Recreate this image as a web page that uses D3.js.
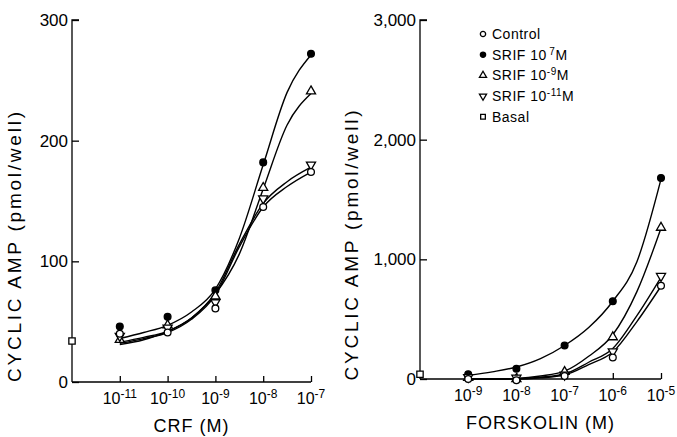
<!DOCTYPE html>
<html>
<head>
<meta charset="utf-8">
<script src="https://cdn.jsdelivr.net/npm/d3@7"></script>
<style>
  body { margin: 0; background: #fff; }
  svg { font-family: "Liberation Sans", Arial, Helvetica, sans-serif; }
</style>
</head>
<body>
<div class="container"></div>
<script>
// ---- data ----
// CRF panel: doses as powers of ten
let crfDoses = [-11, -10, -9, -8, -7];
let crfControl = [40, 41, 61, 145, 174];
let crfSrif7 = [46, 54, 76, 182, 272];
let crfSrif9 = [35, 47, 71, 161, 241];
let crfSrif11 = [38, 45, 66, 152, 180];
let crfBasal = 34;

// fitted curves, sampled every half decade
let crfCurveX = [-11, -10.5, -10, -9.5, -9, -8.5, -8, -7.5, -7];
let crfFitControl = [32, 36, 41, 52, 72, 112, 145, 162, 174];
let crfFitSrif7 = [36, 41, 47, 58, 77, 119, 180, 240, 271];
let crfFitSrif9 = [31, 35, 42, 53, 73, 106, 160, 213, 239];
let crfFitSrif11 = [33, 37, 42, 53, 74, 114, 148, 166, 178];

// Forskolin panel
let fskDoses = [-9, -8, -7, -6, -5];
let fskControl = [0, -10, 25, 180, 780];
let fskSrif7 = [40, 85, 280, 650, 1680];
let fskSrif9 = [10, 0, 60, 350, 1265];
let fskSrif11 = [15, 10, 35, 230, 860];
let fskBasal = 40;

let fskCurveX = [-9, -8.5, -8, -7.5, -7, -6.5, -6, -5.5, -5];
let fskFitControl = [0, 0, 0, 10, 33, 120, 225, 480, 775];
let fskFitSrif7 = [30, 60, 100, 170, 280, 430, 650, 980, 1670];
let fskFitSrif9 = [0, 0, 5, 25, 65, 190, 370, 730, 1260];
let fskFitSrif11 = [0, 0, 3, 15, 42, 140, 255, 530, 850];

let crfYTicks = [0, 100, 200, 300];
let fskYTicks = [0, 1000, 2000, 3000];

let legendLabels = [
  {key: 'control', text: 'Control', sup: '', after: ''},
  {key: 'srif7', text: 'SRIF 10', sup: '\u2009' + '7', after: 'M'},
  {key: 'srif9', text: 'SRIF 10', sup: '-9', after: 'M'},
  {key: 'srif11', text: 'SRIF 10', sup: '-11', after: 'M'},
  {key: 'basal', text: 'Basal', sup: '', after: ''}
];

// ---- drawing ----
let svg = d3.select('.container').append('svg')
  .attr('width', 677)
  .attr('height', 437);

function marker(g, key, x, y, size) {
  let type = d3.symbolCircle, fill = '#fff', rot = 0;
  if (key === 'srif7') fill = '#000';
  if (key === 'srif9') type = d3.symbolTriangle;
  if (key === 'srif11') { type = d3.symbolTriangle; rot = 180; }
  if (key === 'basal') type = d3.symbolSquare;
  g.append('path')
    .attr('d', d3.symbol().type(type).size(size)())
    .attr('transform', `translate(${x},${y}) rotate(${rot})`)
    .attr('fill', fill)
    .attr('stroke', '#000')
    .attr('stroke-width', 1.3);
}

function panel(opt) {
  let g = svg.append('g');
  let x = d3.scaleLog().domain(opt.xDomain).range([opt.left, opt.right]);
  let y = d3.scaleLinear().domain(opt.yDomain).range([opt.bottom, opt.top]);

  // y axis
  let yAxis = d3.axisRight(y).tickValues(opt.yTicks).tickSize(7).tickFormat('');
  g.append('g')
    .attr('transform', `translate(${opt.left},0)`)
    .call(yAxis)
    .call(a => a.select('.domain').attr('d', `M7,${opt.top}H0V${opt.bottom}`));
  g.selectAll('.ylab')
    .data(opt.yTicks)
    .enter().append('text')
    .attr('x', opt.left - 4)
    .attr('y', d => y(d) + 6)
    .attr('text-anchor', 'end')
    .style('font-size', '17px')
    .text(d => opt.yFormat(d));

  // x axis
  let xAxis = d3.axisTop(x).tickValues(opt.doses.map(e => Math.pow(10, e))).tickSize(6).tickFormat('');
  g.append('g')
    .attr('transform', `translate(0,${opt.bottom})`)
    .call(xAxis)
    .call(a => a.select('.domain').attr('d', `M${opt.left},0H${opt.right}`));
  g.selectAll('.domain, .tick line').attr('stroke', '#000').attr('stroke-width', 1.3);

  opt.doses.forEach(e => {
    let t = g.append('text')
      .attr('x', x(Math.pow(10, e)))
      .attr('y', opt.bottom + 22)
      .attr('text-anchor', 'middle')
      .style('font-size', '16px');
    t.append('tspan').text('10');
    t.append('tspan').attr('dy', -6).style('font-size', '12px').text(String(e));
  });

  g.append('text')
    .attr('x', (opt.left + opt.right) / 2)
    .attr('y', opt.bottom + 50)
    .attr('text-anchor', 'middle')
    .style('font-size', '18px')
    .style('letter-spacing', '1px')
    .text(opt.xTitle);

  g.append('text')
    .attr('transform', `translate(${opt.yTitleX},${(opt.top + opt.bottom) / 2 + 46}) rotate(-90)`)
    .attr('text-anchor', 'middle')
    .attr('textLength', 270)
    .attr('lengthAdjust', 'spacing')
    .style('font-size', '19px')
    .text('CYCLIC AMP (pmol/well)');

  // fitted curves
  let line = d3.line()
    .x(d => x(Math.pow(10, d[0])))
    .y(d => y(d[1]))
    .curve(d3.curveMonotoneX);
  opt.fits.forEach(f => {
    g.append('path')
      .datum(opt.curveX.map((e, i) => [e, f[i]]))
      .attr('d', line)
      .attr('fill', 'none')
      .attr('stroke', '#000')
      .attr('stroke-width', 1.4);
  });

  // points
  opt.series.forEach(s => {
    s.values.forEach((v, i) => marker(g, s.key, x(Math.pow(10, opt.doses[i])), y(v), 36));
  });
  marker(g, 'basal', opt.left, y(opt.basal), 40);
  return g;
}

panel({
  left: 72, right: 311, top: 20, bottom: 382,
  xDomain: [1e-12, 1e-7], yDomain: [0, 300],
  yTicks: crfYTicks, yFormat: d => String(d),
  doses: crfDoses, xTitle: 'CRF (M)', yTitleX: 21,
  curveX: crfCurveX,
  fits: [crfFitControl, crfFitSrif7, crfFitSrif9, crfFitSrif11],
  series: [
    {key: 'srif7', values: crfSrif7},
    {key: 'srif9', values: crfSrif9},
    {key: 'srif11', values: crfSrif11},
    {key: 'control', values: crfControl}
  ],
  basal: crfBasal
});

panel({
  left: 420, right: 661, top: 20, bottom: 379,
  xDomain: [1e-10, 1e-5], yDomain: [0, 3000],
  yTicks: fskYTicks, yFormat: d3.format(','),
  doses: fskDoses, xTitle: 'FORSKOLIN (M)', yTitleX: 358,
  curveX: fskCurveX,
  fits: [fskFitControl, fskFitSrif7, fskFitSrif9, fskFitSrif11],
  series: [
    {key: 'srif7', values: fskSrif7},
    {key: 'srif9', values: fskSrif9},
    {key: 'srif11', values: fskSrif11},
    {key: 'control', values: fskControl}
  ],
  basal: fskBasal
});

// legend
let legend = svg.append('g');
legendLabels.forEach((d, i) => {
  let ly = 34 + i * 20.7;
  marker(legend, d.key, 483, ly, 22);
  let t = legend.append('text')
    .attr('x', 492)
    .attr('y', ly + 5)
    .style('font-size', '14px')
    .style('letter-spacing', '0.5px');
  t.append('tspan').text(d.text);
  if (d.sup) {
    t.append('tspan').attr('dy', -5).style('font-size', '10px').text(d.sup);
    t.append('tspan').attr('dy', 5).text(d.after);
  }
});
</script>
</body>
</html>
